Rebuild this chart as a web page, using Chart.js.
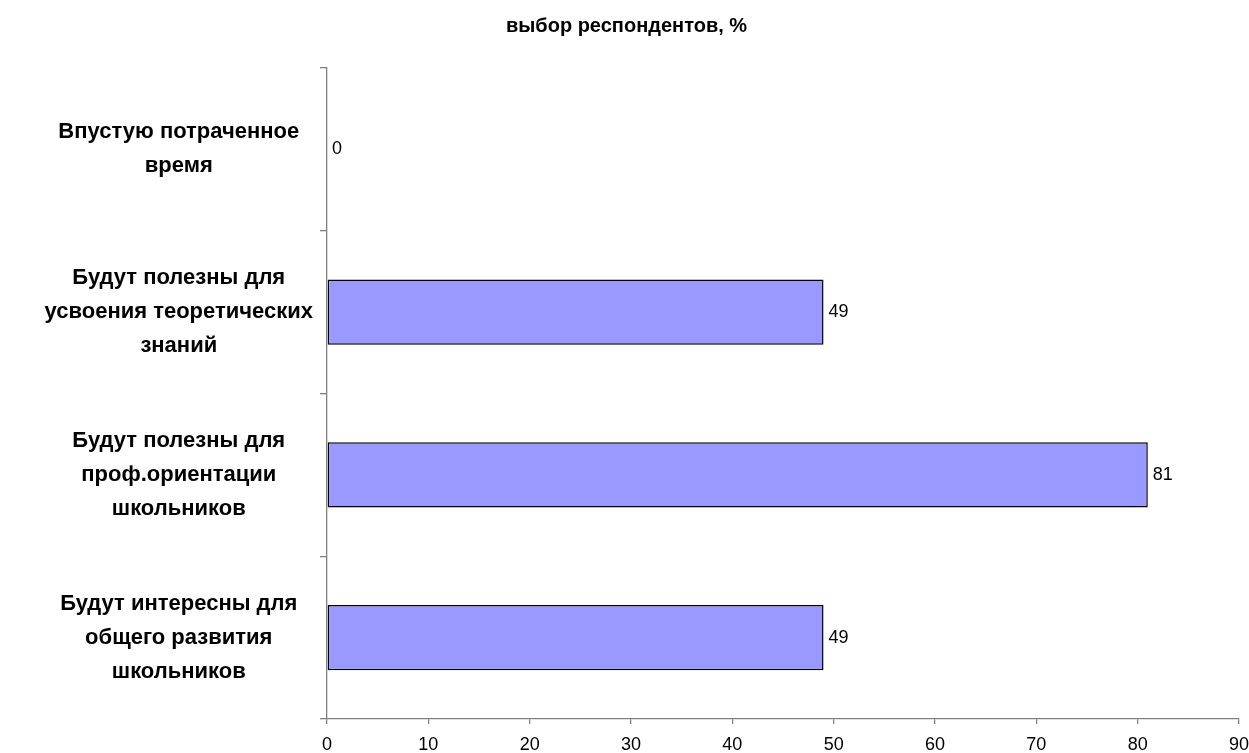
<!DOCTYPE html>
<html lang="ru">
<head>
    <meta charset="UTF-8">
    <title>выбор респондентов, %</title>
    <script src="https://cdn.jsdelivr.net/npm/chart.js"></script>
    <style>
        html, body {
            margin: 0;
            padding: 0;
            background: #ffffff;
        }
        .chart-container {
            position: relative;
            width: 1249px;
            height: 753px;
        }
    </style>
</head>
<body>
    <div class="chart-container">
        <canvas id="surveyChart"></canvas>
    </div>

    <script>
        const chartTitle = 'выбор респондентов, %';
        const categories = [
            ['Впустую потраченное', 'время'],
            ['Будут полезны для', 'усвоения теоретических', 'знаний'],
            ['Будут полезны для', 'проф.ориентации', 'школьников'],
            ['Будут интересны для', 'общего развития', 'школьников']
        ];
        const values = [0, 49, 81, 49];
        const xTicks = [0, 10, 20, 30, 40, 50, 60, 70, 80, 90];

        const FONT = 'Arial, "Liberation Sans", sans-serif';
        const AXIS_GRAY = '#808080';

        // value labels just to the right of each bar
        const valueLabels = {
            id: 'valueLabels',
            afterDatasetsDraw(chart) {
                const ctx = chart.ctx;
                const meta = chart.getDatasetMeta(0);
                ctx.save();
                ctx.font = '18px ' + FONT;
                ctx.fillStyle = '#000';
                ctx.textAlign = 'left';
                ctx.textBaseline = 'middle';
                meta.data.forEach((bar, i) => {
                    ctx.fillText(String(values[i]), bar.x + 5, bar.y);
                });
                ctx.restore();
            }
        };

        // drop the extra room Chart.js reserves for edge labels
        function noEdgePadding(scale) {
            scale.paddingLeft = 0;
            scale.paddingRight = 0;
            scale.paddingTop = 0;
            scale.paddingBottom = 0;
        }

        function initChart() {
            const ctx = document.getElementById('surveyChart').getContext('2d');
            new Chart(ctx, {
                type: 'bar',
                data: {
                    labels: categories,
                    datasets: [{
                        data: values,
                        backgroundColor: '#9999ff',
                        borderColor: '#000000',
                        borderWidth: 1.5,
                        borderSkipped: false,
                        categoryPercentage: 0.4,
                        barPercentage: 1.0
                    }]
                },
                options: {
                    indexAxis: 'y',
                    responsive: true,
                    maintainAspectRatio: false,
                    animation: false,
                    layout: {
                        padding: { left: 14, right: 10, top: 0, bottom: 0 }
                    },
                    plugins: {
                        legend: { display: false },
                        tooltip: { enabled: false },
                        title: {
                            display: true,
                            text: chartTitle,
                            color: '#000',
                            font: { family: FONT, size: 20, weight: 'bold' },
                            padding: { top: 14, bottom: 30 }
                        }
                    },
                    scales: {
                        x: {
                            min: 0,
                            max: 90,
                            afterBuildTicks(scale) {
                                scale.ticks = xTicks.map(v => ({ value: v }));
                            },
                            afterFit(scale) {
                                scale.height = 34;
                                noEdgePadding(scale);
                            },
                            grid: {
                                drawOnChartArea: false,
                                tickLength: 5,
                                color: AXIS_GRAY,
                                lineWidth: 1.3
                            },
                            border: { color: AXIS_GRAY, width: 1.3 },
                            ticks: {
                                color: '#000',
                                padding: 10,
                                maxRotation: 0,
                                font: { family: FONT, size: 18 }
                            }
                        },
                        y: {
                            afterFit(scale) {
                                scale.width = 313;
                                noEdgePadding(scale);
                            },
                            grid: {
                                drawOnChartArea: false,
                                tickLength: 7,
                                color: AXIS_GRAY,
                                lineWidth: 1.3
                            },
                            border: { color: AXIS_GRAY, width: 1.3 },
                            ticks: {
                                color: '#000',
                                padding: 7,
                                crossAlign: 'center',
                                font: { family: FONT, size: 22, weight: 'bold', lineHeight: 1.55 }
                            }
                        }
                    }
                },
                plugins: [valueLabels]
            });
        }

        document.addEventListener('DOMContentLoaded', initChart);
    </script>
</body>
</html>
